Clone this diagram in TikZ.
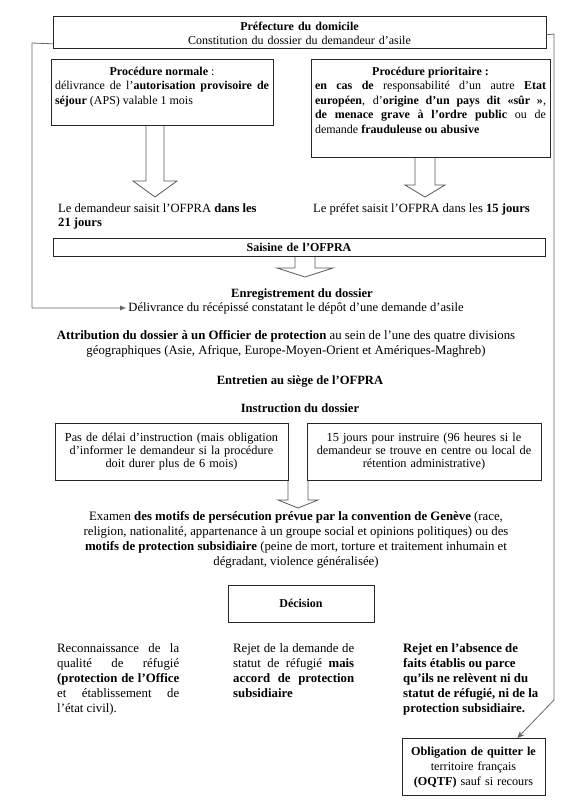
\documentclass[tikz,border=0pt]{standalone}
\usepackage{fontspec}
\setmainfont{Liberation Serif}
\usetikzlibrary{arrows.meta,calc}
\tikzset{
  box/.style={draw=black!85, line width=0.8pt, anchor=north, inner xsep=4pt, inner ysep=0pt},
  txt/.style={inner sep=0pt},
  hollow/.style={draw=black!65, line width=0.8pt},
  feed/.style={draw=black!60, line width=0.8pt},
}
\begin{document}
\begin{tikzpicture}[x=1pt, y=-1pt,
  every node/.style={font=\fontsize{12}{14.5}\selectfont},
  mid/.style={font=\fontsize{12.6}{14}\selectfont},
  low/.style={font=\fontsize{12.8}{15}\selectfont},
]
\useasboundingbox (0,0) rectangle (573,809);
% Prefecture
\node[box, align=center, text width=485pt, text height=14pt, text depth=18pt] (pref) at (299.5,16)
  {\textbf{Préfecture du domicile}\\Constitution du dossier du demandeur d'asile};
\node[box, align=justify, text width=214pt, text height=16pt, text depth=50pt] (norm) at (162,59)
  {{\centering\textbf{Procédure normale} :\par}
   délivrance de l'\textbf{autorisation provisoire de}\linebreak
   \textbf{séjour} (APS) valable 1 mois};
\node[box, align=justify, text width=231pt, text height=16pt, text depth=82pt] (prio) at (430.5,59)
  {{\centering\textbf{Procédure prioritaire :}\par}
   \textbf{en cas de} responsabilité d'un autre \textbf{Etat}\linebreak
   \textbf{européen}, d'\textbf{origine d'un pays dit «sûr »},\linebreak
   \textbf{de menace grave à l'ordre public} ou de\linebreak
   demande \textbf{frauduleuse ou abusive}};
\node[txt, mid, anchor=base west, align=left] (dem21) at (58,226)
  {Le demandeur saisit l'OFPRA \textbf{dans les}\\\textbf{21 jours}};
\node[txt, mid, anchor=base west] (pref15) at (313,212)
  {Le préfet saisit l'OFPRA dans les \textbf{15 jours}};
% OFPRA
\node[box, align=center, text width=484pt, text height=13pt, text depth=5pt] (sais) at (299,238)
  {\textbf{Saisine de l'OFPRA}};
\node[txt, mid, anchor=base] (enreg) at (302,297) {\textbf{Enregistrement du dossier}};
\node[txt, mid, anchor=base, inner sep=2pt] (deliv) at (296,311)
  {Délivrance du récépissé constatant le dépôt d'une demande d'asile};
\node[txt, low, anchor=base, align=center] (attr) at (286,354)
  {\textbf{Attribution du dossier à un Officier de protection} au sein de l'une des quatre divisions\\
   géographiques (Asie, Afrique, Europe-Moyen-Orient et Amériques-Maghreb)};
\node[txt, mid, anchor=base] (entr) at (300,384) {\textbf{Entretien au siège de l'OFPRA}};
\node[txt, mid, anchor=base] (instr) at (300,412) {\textbf{Instruction du dossier}};
\node[box, align=center, text width=225pt, text height=18pt, text depth=39pt,
      font=\fontsize{12.3}{13}\selectfont] (delai) at (171.5,423)
  {Pas de délai d'instruction (mais obligation\\d'informer le demandeur si la procédure\\doit durer plus de 6 mois)};
\node[box, align=center, text width=226pt, text height=18pt, text depth=39pt,
      font=\fontsize{12.3}{13}\selectfont] (quinze) at (424,423)
  {15 jours pour instruire (96 heures si le\\demandeur se trouve en centre ou local de\\rétention administrative)};
\node[txt, low, anchor=base, align=center] (exam) at (296,565)
  {Examen \textbf{des motifs de persécution prévue par la convention de Genève} (race,\\
   religion, nationalité, appartenance à un groupe social et opinions politiques) ou des\\
   \textbf{motifs de protection subsidiaire} (peine de mort, torture et traitement inhumain et\\
   dégradant, violence généralisée)};
% Decision
\node[box, align=center, text width=138pt, text height=22pt, text depth=15pt] (dec) at (301,585)
  {\textbf{Décision}};
\node[txt, low, anchor=base west, align=justify, text width=122pt] (reco) at (57,652)
  {Reconnaissance de la\linebreak qualité de réfugié\linebreak
   \textbf{(protection de l'Office}\linebreak et établissement de\linebreak l'état civil).};
\node[txt, low, anchor=base west, align=justify, text width=121pt] (subs) at (233,652)
  {Rejet de la demande de\linebreak statut de réfugié \textbf{mais}\linebreak
   \textbf{accord de protection}\linebreak \textbf{subsidiaire}};
\node[txt, low, anchor=base west, align=left] (rejet) at (403,712)
  {\textbf{Rejet en l'absence de}\\\textbf{faits établis ou parce}\\\textbf{qu'ils ne relèvent ni du}\\
   \textbf{statut de réfugié, ni de la}\\\textbf{protection subsidiaire.}};
\node[box, align=center, text width=135pt, text height=17pt, text depth=40pt,
      font=\fontsize{12.2}{15}\selectfont] (oqtf) at (473.5,738)
  {\textbf{Obligation de quitter le}\\territoire français\\\textbf{(OQTF)} sauf si recours};
% Block arrows
\draw[hollow] (146,0 |- norm.south) -- (146,181) -- (133,181) -- (155,197)
  -- (177,181) -- (164,181) -- (164,0 |- norm.south);
\draw[hollow] (415,0 |- prio.south) -- (415,185) -- (405,185) -- (425,197)
  -- (445,185) -- (435,185) -- (435,0 |- prio.south);
\draw[hollow] (295,0 |- sais.south) -- (295,268) -- (277,268) -- (305,277)
  -- (333,268) -- (315,268) -- (315,0 |- sais.south);
\draw[hollow] (288,0 |- delai.south) -- (288,500) -- (278,500) -- (298,508)
  -- (318,500) -- (308,500) -- (308,0 |- quinze.south);
% Feedback lines
\draw[feed, -{Latex[length=6pt,width=5pt]}] ([yshift=5pt]pref.south west) -- (32,43) |- (deliv.west);
\draw[feed, -{Stealth[length=7pt,width=6pt]}] ([yshift=14pt]pref.south east) -- (554,34) -- (554,700)
  -- ([xshift=-28pt]oqtf.north east);
\end{tikzpicture}
\end{document}
